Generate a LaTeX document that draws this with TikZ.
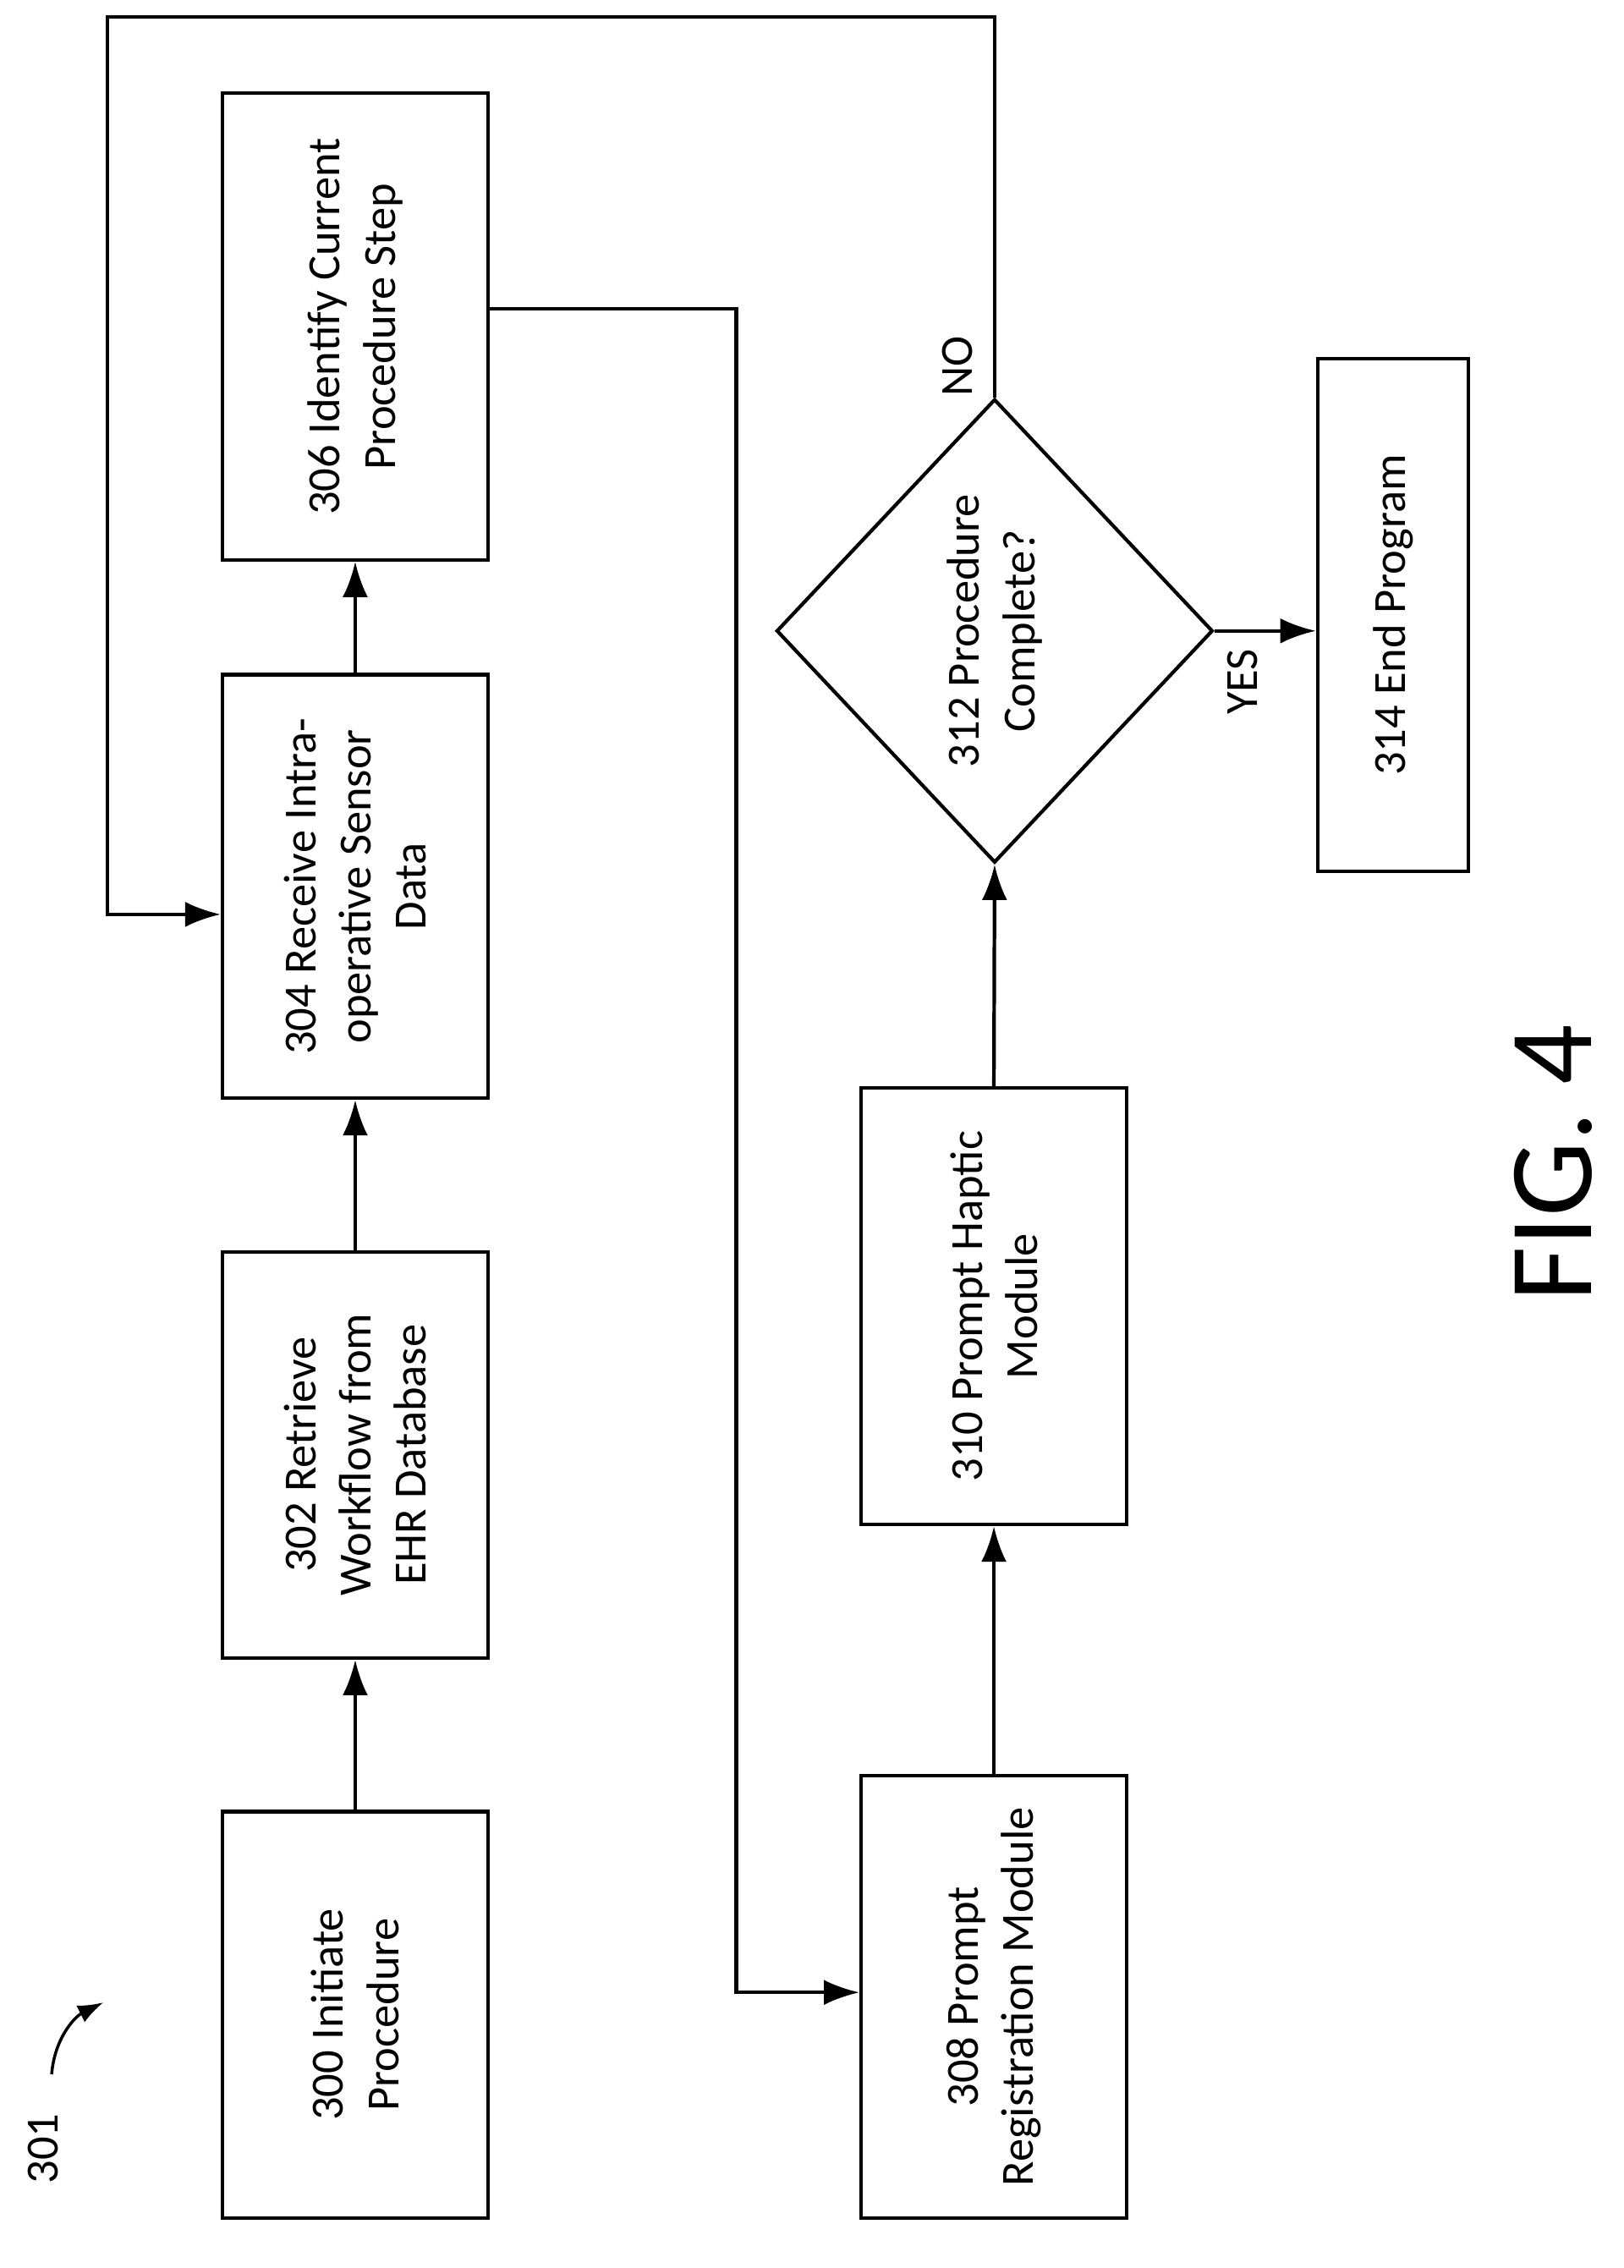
\documentclass[tikz,border=0pt]{standalone}
\usepackage{fontspec}
\setmainfont{Carlito}
\usetikzlibrary{arrows.meta,shapes.geometric,calc}
\begin{document}
\begin{tikzpicture}[x=0.01697cm,y=-0.01697cm,
  box/.style={draw,line width=1.2pt,rotate=90,align=center,inner sep=0pt,font=\fontsize{15.5}{18.6}\selectfont},
  lbl/.style={rotate=90,align=center,font=\fontsize{15.5}{18.6}\selectfont},
  ar/.style={line width=1.2pt,-{Latex[length=0.42cm,width=0.3cm]}}]
\useasboundingbox (0,0) rectangle (1131,1580);
\node[box,minimum width={283*0.01697cm},minimum height={185*0.01697cm}] (n300) at (247.5,1403.5) {300 Initiate\\Procedure};
\node[box,minimum width={283*0.01697cm},minimum height={185*0.01697cm}] (n302) at (247.5,1013.5) {302 Retrieve\\Workflow from\\EHR Database};
\node[box,minimum width={295*0.01697cm},minimum height={185*0.01697cm}] (n304) at (247.5,617.5) {304 Receive Intra-\\operative Sensor\\Data};
\node[box,minimum width={325*0.01697cm},minimum height={185*0.01697cm}] (n306) at (247.5,227.5) {306 Identify Current\\Procedure Step};
\node[box,minimum width={308*0.01697cm},minimum height={185*0.01697cm}] (n308) at (692.5,1391) {308 Prompt\\Registration Module};
\node[box,minimum width={304*0.01697cm},minimum height={185*0.01697cm}] (n310) at (692.5,910) {310 Prompt Haptic\\Module};
\node[draw,diamond,line width=1.2pt,inner sep=0pt,minimum width={304*0.01697cm},minimum height={323*0.01697cm}] (n312) at (693,439.5) {};
\node[lbl] (t312) at (693,439.5) {312 Procedure\\Complete?};
\node[box,minimum width={357*0.01697cm},minimum height={105*0.01697cm}] (n314) at (970.5,428.5) {314 End Program};
\draw[ar] (n300.east) -- (n302.west);
\draw[ar] (n302.east) -- (n304.west);
\draw[ar] (n304.east) -- (n306.west);
\coordinate (c1) at (513,215);
\coordinate (c2) at (513,1388);
\draw[ar] (n306.south |- c1) -- (c1) -- (c2) -- (n308.north |- c2);
\draw[ar] (n308.east) -- (n310.west);
\draw[ar] (n310.east) -- (n312.south);
\coordinate (d1) at (693,12);
\coordinate (d2) at (75,12);
\coordinate (d3) at (75,637);
\draw[ar] (n312.north) -- (d1) -- (d2) -- (d3) -- (n304.north |- d3);
\draw[ar] (n312.east) -- (n312.east -| n314.north);
\node[lbl] (no) at (667,255) {NO};
\node[lbl] (yes) at (866,475) {YES};
\node[rotate=90,font=\fontsize{40}{44}\selectfont] (fig) at (1082,810) {FIG. 4};
\node[lbl] (r301) at (30,1497) {301};
\coordinate (e1) at (72,1395);
\draw[line width=1pt,-{Latex[length=0.3cm,width=0.22cm]}] (36,1445) .. controls (38,1420) and (52,1405) .. (e1);
\end{tikzpicture}
\end{document}
